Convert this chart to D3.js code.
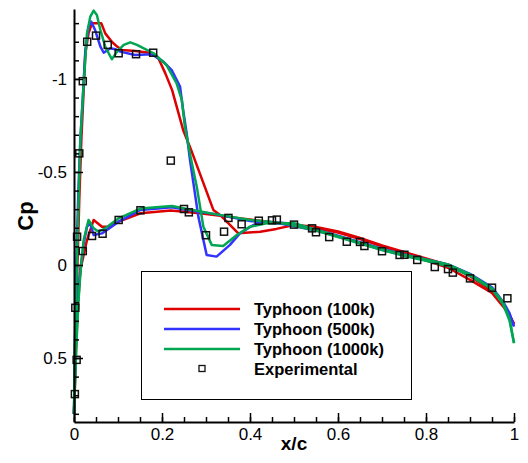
<!DOCTYPE html>
<html>
<head>
<meta charset="utf-8">
<script src="https://cdn.jsdelivr.net/npm/d3@7"></script>
<style>
  body { margin: 0; background: #fff; }
  svg { display: block; font-family: "Liberation Sans", Arial, sans-serif; }
</style>
</head>
<body>
<div id="chart"></div>
<script>
// surface Cp distributions, [x/c, Cp]
const typhoon100kUpper = [[0,0.8],[0.003,0.45],[0.006,0.15],[0.009,-0.1],[0.012,-0.35],[0.0167,-0.672],[0.0258,-1.138],[0.033,-1.245],[0.041,-1.3],[0.062,-1.3],[0.071,-1.245],[0.086,-1.2],[0.098,-1.174],[0.109,-1.156],[0.139,-1.15],[0.175,-1.14],[0.192,-1.11],[0.2076,-1.03],[0.223,-0.94],[0.248,-0.726],[0.268,-0.607],[0.3167,-0.296],[0.332,-0.269],[0.3735,-0.17],[0.423,-0.179],[0.46,-0.194],[0.5,-0.215],[0.55,-0.205],[0.6,-0.18],[0.65,-0.145],[0.7,-0.105],[0.75,-0.07],[0.8,-0.035],[0.85,0.0],[0.9,0.06],[0.95,0.14],[0.976,0.22],[0.99,0.27],[1,0.32]];
const typhoon100kLower = [[0,0.8],[0.004,0.5],[0.008,0.25],[0.0144,0.027],[0.0295,-0.134],[0.0447,-0.242],[0.0636,-0.206],[0.079,-0.206],[0.1015,-0.233],[0.151,-0.278],[0.22,-0.293],[0.286,-0.278],[0.347,-0.26],[0.4227,-0.238],[0.5,-0.213],[0.55,-0.197],[0.6,-0.175],[0.65,-0.14],[0.7,-0.1],[0.75,-0.062],[0.8,-0.025],[0.85,0.015],[0.9,0.08],[0.95,0.15],[0.976,0.225],[0.99,0.27],[1,0.315]];
const typhoon500kUpper = [[0,0.8],[0.002,0.45],[0.004,0.15],[0.007,-0.15],[0.01,-0.4],[0.0144,-0.672],[0.0197,-0.887],[0.0258,-1.156],[0.033,-1.28],[0.039,-1.308],[0.048,-1.263],[0.06,-1.174],[0.0675,-1.141],[0.0825,-1.165],[0.094,-1.16],[0.105,-1.147],[0.139,-1.129],[0.177,-1.133],[0.203,-1.093],[0.222,-1.048],[0.241,-0.959],[0.248,-0.833],[0.256,-0.708],[0.2636,-0.565],[0.2826,-0.26],[0.3015,-0.054],[0.324,-0.045],[0.3545,-0.108],[0.377,-0.17],[0.4076,-0.215],[0.438,-0.233],[0.5,-0.222],[0.55,-0.19],[0.6,-0.158],[0.65,-0.122],[0.7,-0.087],[0.75,-0.056],[0.8,-0.03],[0.85,-0.003],[0.9,0.048],[0.95,0.12],[0.976,0.2],[0.99,0.26],[1,0.33]];
const typhoon500kLower = [[0,0.8],[0.004,0.45],[0.008,0.2],[0.0144,0.027],[0.022,-0.116],[0.0295,-0.206],[0.037,-0.224],[0.0447,-0.161],[0.0636,-0.17],[0.1015,-0.233],[0.151,-0.296],[0.223,-0.31],[0.248,-0.299],[0.324,-0.272],[0.4,-0.236],[0.476,-0.22],[0.55,-0.185],[0.6,-0.153],[0.65,-0.118],[0.7,-0.082],[0.75,-0.052],[0.8,-0.025],[0.85,0.003],[0.9,0.055],[0.95,0.128],[0.976,0.21],[0.99,0.27],[1,0.33]];
const typhoon1000kUpper = [[0,0.8],[0.002,0.45],[0.005,0.15],[0.008,-0.15],[0.011,-0.4],[0.0144,-0.672],[0.022,-0.977],[0.0295,-1.245],[0.037,-1.335],[0.0447,-1.367],[0.052,-1.344],[0.06,-1.263],[0.071,-1.174],[0.086,-1.106],[0.098,-1.147],[0.113,-1.183],[0.128,-1.197],[0.143,-1.183],[0.162,-1.16],[0.181,-1.138],[0.21,-1.075],[0.233,-0.977],[0.245,-0.887],[0.252,-0.744],[0.265,-0.58],[0.279,-0.421],[0.294,-0.206],[0.313,-0.108],[0.339,-0.102],[0.37,-0.161],[0.4,-0.206],[0.438,-0.224],[0.5,-0.225],[0.55,-0.19],[0.6,-0.155],[0.65,-0.12],[0.7,-0.085],[0.75,-0.055],[0.8,-0.03],[0.85,-0.003],[0.9,0.05],[0.95,0.125],[0.975,0.2],[0.99,0.29],[1,0.42]];
const typhoon1000kLower = [[0,0.8],[0.005,0.45],[0.01,0.2],[0.015,0.03],[0.022,-0.134],[0.033,-0.242],[0.0447,-0.197],[0.056,-0.179],[0.071,-0.197],[0.1015,-0.251],[0.151,-0.303],[0.223,-0.317],[0.248,-0.305],[0.324,-0.272],[0.4,-0.242],[0.476,-0.224],[0.55,-0.185],[0.6,-0.15],[0.65,-0.115],[0.7,-0.08],[0.75,-0.05],[0.8,-0.022],[0.85,0.005],[0.9,0.058],[0.95,0.13],[0.975,0.21],[0.99,0.3],[1,0.42]];

const experimental = [[0.002,0.694],[0.006,0.51],[0.003,0.23],[0.007,-0.152],[0.02,-0.075],[0.012,-0.6],[0.02,-0.988],[0.03,-1.2],[0.05,-1.233],[0.0766,-1.183],[0.1015,-1.138],[0.141,-1.133],[0.18,-1.141],[0.22,-0.561],[0.3,-0.16],[0.341,-0.179],[0.381,-0.219],[0.351,-0.253],[0.42,-0.238],[0.45,-0.24],[0.461,-0.244],[0.5,-0.217],[0.541,-0.197],[0.55,-0.176],[0.58,-0.15],[0.62,-0.125],[0.65,-0.124],[0.66,-0.102],[0.7,-0.074],[0.74,-0.054],[0.751,-0.055],[0.78,-0.027],[0.82,0.011],[0.85,0.022],[0.861,0.041],[0.9,0.072],[0.95,0.122],[0.985,0.179],[0.041,-0.156],[0.065,-0.168],[0.1015,-0.242],[0.151,-0.294],[0.25,-0.301],[0.261,-0.283]];

const seriesNames = ["Typhoon (100k)", "Typhoon (500k)", "Typhoon (1000k)"];
const seriesColors = ["#dd0000", "#3333ff", "#00a651"];
const xTicks = [0, 0.2, 0.4, 0.6, 0.8, 1];
const yTicks = [-1, -0.5, 0, 0.5];

const series = [
  {name: seriesNames[0], color: seriesColors[0], surfaces: [typhoon100kUpper, typhoon100kLower]},
  {name: seriesNames[1], color: seriesColors[1], surfaces: [typhoon500kUpper, typhoon500kLower]},
  {name: seriesNames[2], color: seriesColors[2], surfaces: [typhoon1000kUpper, typhoon1000kLower]}
];

const width = 528, height = 463;
const svg = d3.select("#chart").append("svg")
  .attr("width", width).attr("height", height);

const x = d3.scaleLinear().domain([0, 1]).range([74, 514]);
// Cp axis is inverted: suction on top
const y = d3.scaleLinear().domain([-1.376, 0.844]).range([9, 422]);

const line = d3.line().x(d => x(d[0])).y(d => y(d[1]));

// lines
series.forEach(s => {
  s.surfaces.forEach(pts => {
    svg.append("path").datum(pts)
      .attr("fill", "none")
      .attr("stroke", s.color)
      .attr("stroke-width", 2.5)
      .attr("stroke-linejoin", "round")
      .attr("d", line);
  });
});

// experimental squares
svg.append("g").selectAll("rect").data(experimental).join("rect")
  .attr("x", d => x(d[0]) - 3.5)
  .attr("y", d => y(d[1]) - 3.5)
  .attr("width", 7).attr("height", 7)
  .attr("fill", "none")
  .attr("stroke", "#111")
  .attr("stroke-width", 1.5);

// axes
const fmt = d => String(d);
const yMinor = d3.range(-13, 9).map(v => v / 10);
const xMinor = d3.range(0, 21).map(v => v / 20);

const yMinorG = svg.append("g").attr("transform", `translate(${x(0)},0)`)
  .call(d3.axisLeft(y).tickValues(yMinor).tickSizeInner(-5).tickSizeOuter(0).tickFormat(""));
yMinorG.select(".domain").remove();
const yAxisG = svg.append("g").attr("transform", `translate(${x(0)},0)`)
  .call(d3.axisLeft(y).tickValues(yTicks).tickSizeInner(-9).tickSizeOuter(0).tickPadding(7).tickFormat(fmt));

const xMinorG = svg.append("g").attr("transform", `translate(0,${y.range()[1]})`)
  .call(d3.axisBottom(x).tickValues(xMinor).tickSizeInner(-5).tickSizeOuter(0).tickFormat(""));
xMinorG.select(".domain").remove();
const xAxisG = svg.append("g").attr("transform", `translate(0,${y.range()[1]})`)
  .call(d3.axisBottom(x).tickValues(xTicks).tickSizeInner(-9).tickSizeOuter(0).tickPadding(6).tickFormat(fmt));

svg.selectAll(".tick line").attr("stroke", "#000").attr("stroke-width", 1.5);
svg.selectAll(".domain").attr("stroke", "#000").attr("stroke-width", 2);
svg.selectAll(".tick text")
  .attr("font-family", "Liberation Sans, Arial, sans-serif")
  .attr("font-size", 17).attr("fill", "#000");

// axis titles
svg.append("text")
  .attr("x", 294).attr("y", 450)
  .attr("text-anchor", "middle")
  .attr("font-size", 19).attr("font-weight", "bold")
  .text("x/c");
svg.append("text")
  .attr("transform", "translate(33,216) rotate(-90)")
  .attr("text-anchor", "middle")
  .attr("font-size", 22).attr("font-weight", "bold")
  .text("Cp");

// legend
const legend = svg.append("g");
legend.append("rect")
  .attr("x", 141.5).attr("y", 271.5).attr("width", 270).attr("height", 128)
  .attr("fill", "#fff").attr("stroke", "#000").attr("stroke-width", 1);
series.forEach((s, i) => {
  const ly = 309 + i * 20;
  legend.append("line")
    .attr("x1", 164).attr("x2", 240).attr("y1", ly).attr("y2", ly)
    .attr("stroke", s.color).attr("stroke-width", 2.5);
  legend.append("text")
    .attr("x", 254).attr("y", ly).attr("dy", "0.36em")
    .attr("font-size", 16.5).attr("font-weight", "bold")
    .text(s.name);
});
legend.append("rect")
  .attr("x", 199).attr("y", 365.5).attr("width", 6).attr("height", 6)
  .attr("fill", "none").attr("stroke", "#111").attr("stroke-width", 1.3);
legend.append("text")
  .attr("x", 254).attr("y", 369).attr("dy", "0.36em")
  .attr("font-size", 16.5).attr("font-weight", "bold")
  .text("Experimental");
</script>
</body>
</html>
